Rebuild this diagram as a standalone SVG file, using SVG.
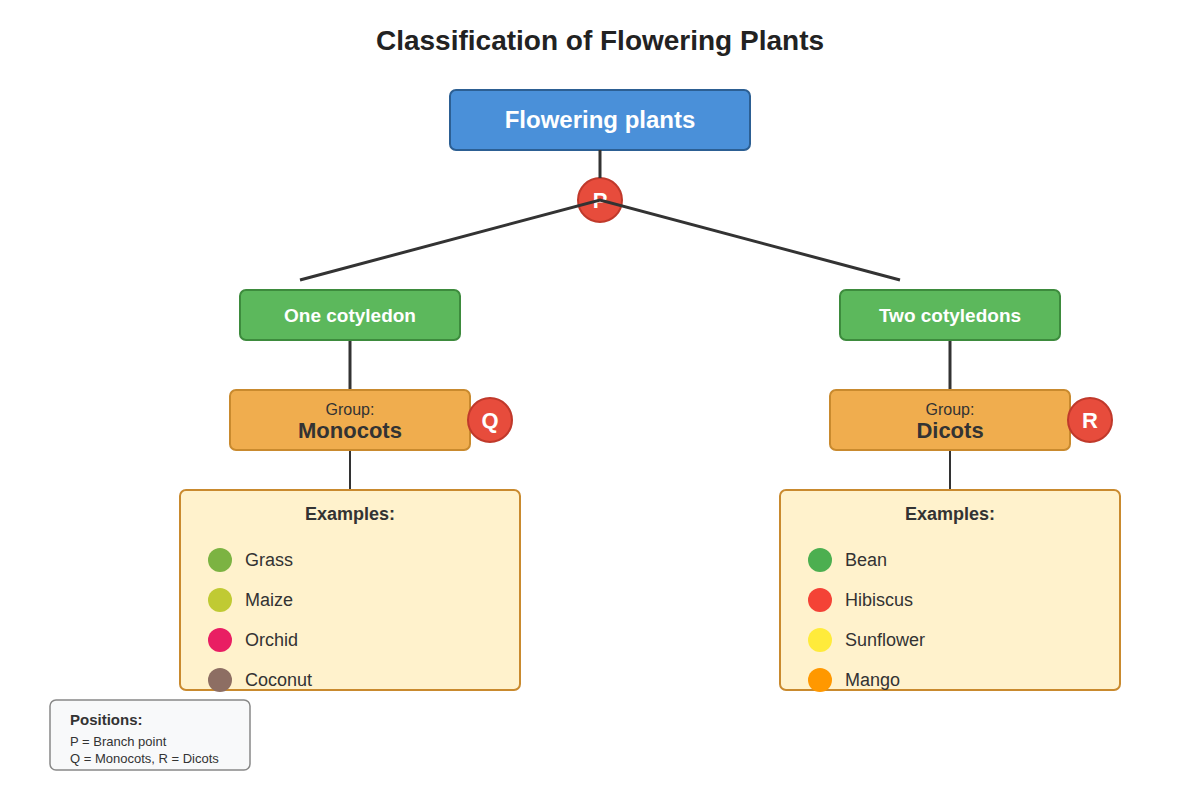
<svg xmlns="http://www.w3.org/2000/svg" width="1200" height="800" viewBox="0 0 1200 800">
<style>
text{font-family:"Liberation Sans",Arial,sans-serif}
.green{fill:#5cb85c;stroke:#3d8b3d;stroke-width:2}
.orange{fill:#f0ad4e;stroke:#c98a2e;stroke-width:2}
.ex{fill:#fff2cc;stroke:#c98a2e;stroke-width:2}
.badge{fill:#e74c3c;stroke:#c0392b;stroke-width:2}
.bt{fill:#fff;font-size:22px;font-weight:bold;text-anchor:middle}
.wt{fill:#fff;font-size:19px;font-weight:bold;text-anchor:middle}
.item{fill:#333;font-size:18px}
.c{stroke:#333;fill:none}
</style>
<rect width="1200" height="800" fill="#fff"/>
<text x="600" y="50" font-size="28" font-weight="bold" text-anchor="middle" fill="#222">Classification of Flowering Plants</text>
<g id="root"><rect x="450" y="90" width="300" height="60" rx="6" fill="#4a90d9" stroke="#2c5f93" stroke-width="2"/><text x="600" y="128" class="bt" style="font-size:24px">Flowering plants</text></g>
<g id="P"><circle cx="600" cy="200" r="22" class="badge"/><text x="600" y="208" class="bt">P</text></g>
<g id="connectors">
<line x1="600" y1="150" x2="600" y2="178" class="c" stroke-width="3"/>
<polyline points="300,280 600,200 900,280" class="c" stroke-width="3"/>
<line x1="350" y1="340" x2="350" y2="390" class="c" stroke-width="3"/>
<line x1="950" y1="340" x2="950" y2="390" class="c" stroke-width="3"/>
<line x1="350" y1="450" x2="350" y2="490" class="c" stroke-width="2"/>
<line x1="950" y1="450" x2="950" y2="490" class="c" stroke-width="2"/>
</g>
<g id="one"><rect x="240" y="290" width="220" height="50" rx="6" class="green"/><text x="350" y="322" class="wt">One cotyledon</text></g>
<g id="two"><rect x="840" y="290" width="220" height="50" rx="6" class="green"/><text x="950" y="322" class="wt">Two cotyledons</text></g>
<g id="mono"><rect x="230" y="390" width="240" height="60" rx="6" class="orange"/><text x="350" y="415" font-size="16" fill="#333" text-anchor="middle">Group:</text><text x="350" y="438" font-size="22" font-weight="bold" fill="#333" text-anchor="middle">Monocots</text></g>
<g id="di"><rect x="830" y="390" width="240" height="60" rx="6" class="orange"/><text x="950" y="415" font-size="16" fill="#333" text-anchor="middle">Group:</text><text x="950" y="438" font-size="22" font-weight="bold" fill="#333" text-anchor="middle">Dicots</text></g>
<g id="Q"><circle cx="490" cy="420" r="22" class="badge"/><text x="490" y="428" class="bt">Q</text></g>
<g id="R"><circle cx="1090" cy="420" r="22" class="badge"/><text x="1090" y="428" class="bt">R</text></g>
<g id="exmono"><rect x="180" y="490" width="340" height="200" rx="6" class="ex"/>
<text x="350" y="520" font-size="18" font-weight="bold" fill="#333" text-anchor="middle">Examples:</text>
<circle cx="220" cy="560" r="12" fill="#7cb342"/><text x="245" y="566" class="item">Grass</text>
<circle cx="220" cy="600" r="12" fill="#c0ca33"/><text x="245" y="606" class="item">Maize</text>
<circle cx="220" cy="640" r="12" fill="#e91e63"/><text x="245" y="646" class="item">Orchid</text>
<circle cx="220" cy="680" r="12" fill="#8d6e63"/><text x="245" y="686" class="item">Coconut</text></g>
<g id="exdi"><rect x="780" y="490" width="340" height="200" rx="6" class="ex"/>
<text x="950" y="520" font-size="18" font-weight="bold" fill="#333" text-anchor="middle">Examples:</text>
<circle cx="820" cy="560" r="12" fill="#4caf50"/><text x="845" y="566" class="item">Bean</text>
<circle cx="820" cy="600" r="12" fill="#f44336"/><text x="845" y="606" class="item">Hibiscus</text>
<circle cx="820" cy="640" r="12" fill="#ffeb3b"/><text x="845" y="646" class="item">Sunflower</text>
<circle cx="820" cy="680" r="12" fill="#ff9800"/><text x="845" y="686" class="item">Mango</text></g>
<g id="legend"><rect x="50" y="700" width="200" height="70" rx="6" fill="#f8f9fa" stroke="#888" stroke-width="1.5"/>
<text x="70" y="725" font-size="15" font-weight="bold" fill="#333">Positions:</text>
<text x="70" y="746" font-size="13" fill="#333">P = Branch point</text>
<text x="70" y="763" font-size="13" fill="#333">Q = Monocots, R = Dicots</text></g>
</svg>
